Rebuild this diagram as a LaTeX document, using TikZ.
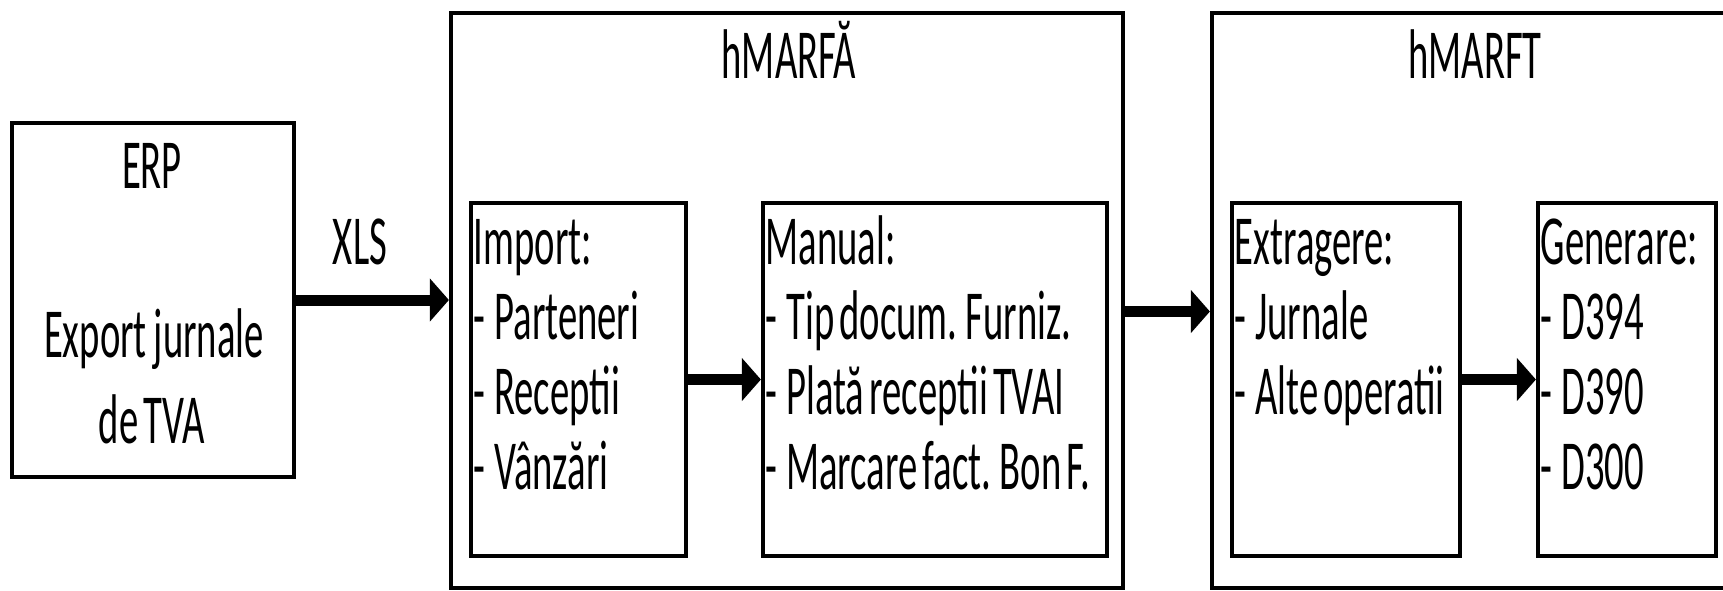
\documentclass[tikz,border=0pt]{standalone}
\usepackage{fontspec}
\setmainfont[FakeStretch=0.55, WordSpace=0.6]{Carlito}
\usetikzlibrary{arrows.meta}
\newcommand{\lidash}{-\hspace{2.5pt}}
\tikzset{
	box/.style={draw, line width=1.2pt, inner sep=0pt},
	item/.style={anchor=base west, inner sep=0pt},
	title/.style={anchor=base, inner sep=0pt},
	flow/.style={-{Triangle[width=4.2mm,length=1.9mm]}, line width=1.1mm}
}

\begin{document}
\begin{tikzpicture}[x=0.1mm, y=-0.1mm, font=\fontsize{20pt}{24pt}\selectfont]
	\useasboundingbox (0,0) rectangle (1723,590);
	% outer blocks
	\node[box, minimum width=28.2mm, minimum height=35.4mm] (erp)   at (153,300)   {};
	\node[box, minimum width=67.2mm, minimum height=57.5mm] (marfa) at (787,300.5) {};
	\node[box, minimum width=51.8mm, minimum height=57.5mm] (marft) at (1471,300.5) {};
	% inner blocks
	\node[box, minimum width=21.5mm, minimum height=35.3mm] (import) at (578.5,379.5) {};
	\node[box, minimum width=34.4mm, minimum height=35.3mm] (manual) at (935,379.5)   {};
	\node[box, minimum width=22.8mm, minimum height=35.3mm] (extr)   at (1346,379.5)  {};
	\node[box, minimum width=17.8mm, minimum height=35.3mm] (gen)    at (1627,379.5)  {};

	% titles
	\node[title] (erpT)   at (152,188)  {ERP};
	\node[title] (erpA)   at (154,357)  {Export\hspace{2pt}jurnale};
	\node[title] (erpB)   at (152,443)  {de TVA};
	\node[title] (marfaT) at (789,78)   {hMARFĂ};
	\node[title] (marftT) at (1475,78)  {hMARFT};
	\node[title] (xls)    at (360,264)  {XLS};

	% lists
	\foreach \t [count=\i from 0] in {Import:, \lidash Parteneri, \lidash Receptii, \lidash Vânzări}
		\node[item] (imp\i) at (473,264+75*\i) {\t};
	\foreach \t [count=\i from 0] in {Manual:, \lidash Tip docum. Furniz., \lidash Plată receptii TVAI, \lidash Marcare fact. Bon F.}
		\node[item] (man\i) at (765,264+75*\i) {\t};
	\foreach \t [count=\i from 0] in {Extragere:, \lidash Jurnale, \lidash Alte operatii}
		\node[item] (ext\i) at (1234,264+75*\i) {\t};
	\foreach \t [count=\i from 0] in {Generare:, \lidash D394, \lidash D390, \lidash D300}
		\node[item] (gen\i) at (1540,264+75*\i) {\t};

	% flows
	\draw[flow] (erp.east) -- (erp.east -| marfa.west);
	\draw[flow] (import.east) -- (manual.west);
	\draw[flow] ([yshift=-1.1mm]marfa.east) -- ([yshift=-1.1mm]marft.west);
	\draw[flow] (extr.east) -- (gen.west);
\end{tikzpicture}
\end{document}
